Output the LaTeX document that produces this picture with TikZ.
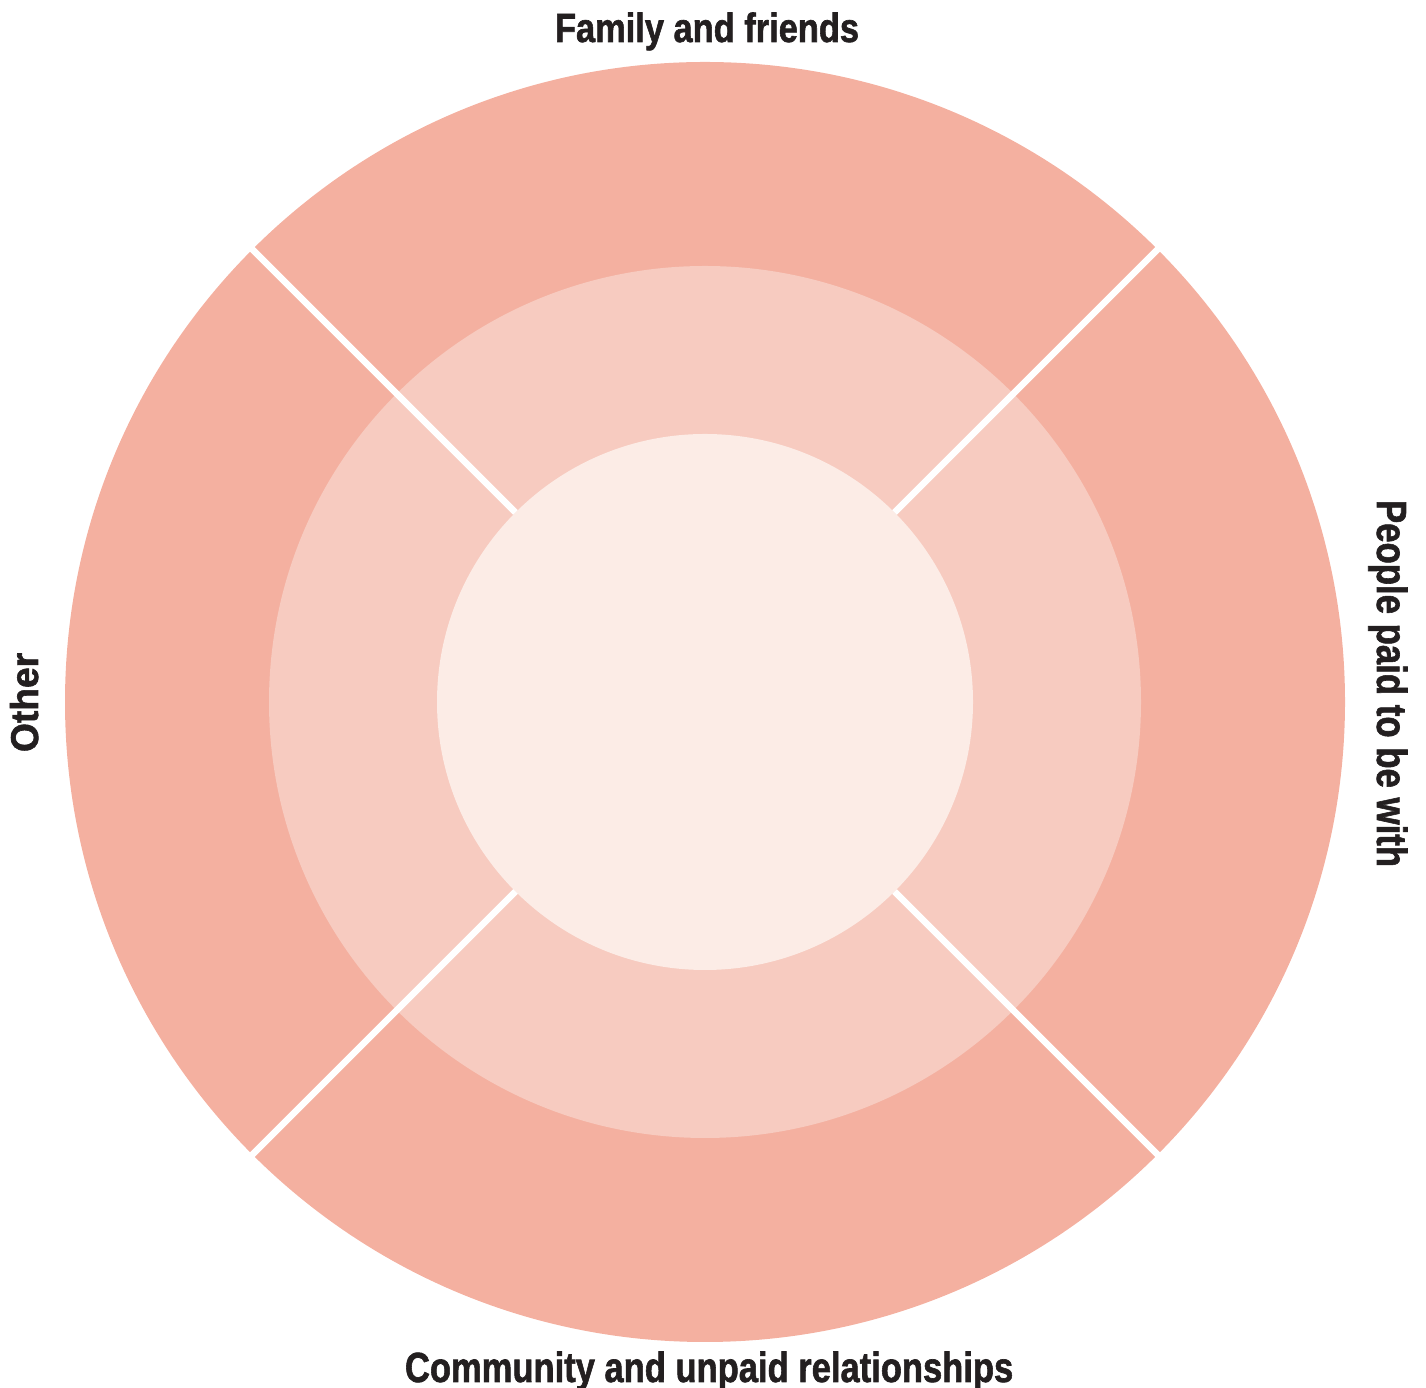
\documentclass[tikz,border=0pt]{standalone}
\usepackage{fontspec}
\setmainfont{Liberation Sans}[BoldFeatures={FakeBold=1.6}]
\usepackage{graphicx}
\usetikzlibrary{calc}
\definecolor{outerc}{HTML}{F4B0A0}
\definecolor{midc}{HTML}{F7CBC0}
\definecolor{innerc}{HTML}{FCECE6}
\definecolor{txt}{HTML}{231F20}
\tikzset{
  lab/.style={inner sep=0pt, outer sep=0pt, text=txt, font=\bfseries},
  divider/.style={draw=white, line width=6.5pt}
}
\newcommand{\fitlab}[3]{\resizebox{#1pt}{#2pt}{#3}}
\begin{document}
\begin{tikzpicture}[x=1pt,y=1pt]
\useasboundingbox (0,0) rectangle (1426,1388);
\coordinate (c) at (705,686);
\fill[outerc] (c) circle (640);
\fill[midc] (c) circle (436);
\fill[innerc] (c) circle (268);
\foreach \a/\n in {45/ne,135/nw,225/sw,315/se}{
  \coordinate (i\n) at ($(c)+(\a:268)$);
  \coordinate (o\n) at ($(c)+(\a:644)$);
  \draw[divider] (i\n) -- (o\n);
}
\node[lab, anchor=base west] (fam) at (555,1346) {\fitlab{304}{29.5}{Family and friends}};
\node[lab, anchor=base west] (com) at (405,6) {\fitlab{608}{30.5}{Community and unpaid relationships}};
\node[lab, anchor=base west, rotate=-90] (ppl) at (1377,888) {\fitlab{367}{30.5}{People paid to be with}};
\node[lab, anchor=base west, rotate=90] (oth) at (38,636) {\fitlab{99}{28}{Other}};
\end{tikzpicture}
\end{document}
